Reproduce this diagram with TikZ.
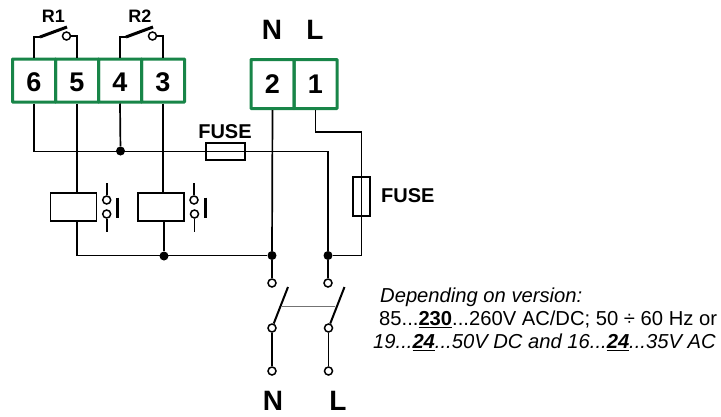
\documentclass[tikz,border=0pt]{standalone}
\usepackage{fontspec}
\setmainfont{Liberation Sans}
\usepackage{xcolor}
\usetikzlibrary{positioning,shapes,arrows,calc}
\definecolor{termgreen}{RGB}{24,133,72}
\tikzset{
    terminal/.style={draw=termgreen, line width=3pt, rounded corners=0.5pt, minimum width=43pt, inner sep=0pt, font=\fontsize{27}{27}\selectfont\bfseries},
    wire/.style={line width=1.7pt, black},
    coil/.style={draw, line width=1.7pt, minimum width=46pt, minimum height=28pt, inner sep=0pt},
    fuse/.style={draw, line width=1.6pt, inner sep=0pt},
    ring/.style={circle, draw, line width=1.5pt, fill=white, minimum size=8pt, inner sep=0pt},
    junction/.style={circle, fill=black, minimum size=9pt, inner sep=0pt},
    blade/.style={line width=3pt, black},
    caption/.style={inner sep=0pt, font=\fontsize{20}{20}\selectfont\bfseries},
    mainlabel/.style={inner sep=0pt, font=\fontsize{28}{28}\selectfont\bfseries},
    supply/.style={inner sep=0pt, anchor=west, font=\fontsize{20.2}{20.2}\selectfont}
}
\begin{document}
\begin{tikzpicture}[x=1pt,y=-1pt]
            \useasboundingbox (0,0) rectangle (721,416);

            % relay side terminals
            \node[terminal, minimum height=43pt, text height=22pt] (T6) at (34,80.5) {6};
            \node[terminal, minimum height=43pt, text height=22pt] (T5) at (77,80.5) {5};
            \node[terminal, minimum height=43pt, text height=22pt] (T4) at (120,80.5) {4};
            \node[terminal, minimum height=43pt, text height=22pt] (T3) at (163,80.5) {3};

            % supply terminals
            \node[terminal, minimum height=49pt] (T2) at (272.5,84) {2};
            \node[terminal, minimum height=49pt] (T1) at (315.5,84) {1};
            \node[mainlabel] (Ntop) at (272,30) {N};
            \node[mainlabel] (Ltop) at (315,30) {L};

            % relay contacts
            \node[caption, font=\fontsize{18}{18}\selectfont\bfseries] (R1) at (53.5,16) {R1};
            \node[caption, font=\fontsize{18}{18}\selectfont\bfseries] (R2) at (140,16) {R2};
            \node[ring] (Ra) at (66.5,36) {};
            \node[ring] (Rb) at (152.5,36) {};
            \coordinate (Ra1) at (40,37);
            \coordinate (Ra2) at (67,27);
            \coordinate (Rb1) at (126,37);
            \coordinate (Rb2) at (153,27);
            \draw[wire] (T6.north) |- (Ra1);
            \draw[wire] (T5.north) |- (Ra);
            \draw[wire] (T4.north) |- (Rb1);
            \draw[wire] (T3.north) |- (Rb);
            \draw[blade] (Ra1) -- (Ra2);
            \draw[blade] (Rb1) -- (Rb2);

            % fuses
            \node[fuse, minimum width=39pt, minimum height=17pt] (FH) at (225.5,151.5) {};
            \node[fuse, minimum width=17pt, minimum height=39pt] (FV) at (361.5,196.5) {};
            \node[caption] (FHtext) at (225,132) {FUSE};
            \node[caption, anchor=west] (FVtext) at (381,195.5) {FUSE};
            \coordinate (FVtop) at (361.5,132);

            % coils
            \node[coil] (CA) at (73.5,207) {};
            \node[coil] (CB) at (161,207) {};

            % junctions
            \node[junction] (JA) at (120.5,151) {};
            \node[junction] (JB) at (164,256) {};
            \node[junction] (JN) at (272,255.5) {};
            \node[junction] (JL) at (328,255.5) {};

            % main switch
            \node[ring] (Nu) at (272,283) {};
            \node[ring] (Lu) at (328,283) {};
            \node[ring] (Nm) at (272,328) {};
            \node[ring] (Lm) at (328.5,328) {};
            \node[ring] (Nd) at (272,371) {};
            \node[ring] (Ld) at (328.5,371) {};
            \coordinate (Nt) at (288,287);
            \coordinate (Lt) at (344.5,287);
            \coordinate (Nk) at (281.5,306.5);
            \coordinate (Lk) at (335,306.5);
            \node[mainlabel] (Nbot) at (273,401) {N};
            \node[mainlabel] (Lbot) at (338,401) {L};

            % wiring
            \draw[wire] (T6.south) |- (FH.center) -| (JL);
            \draw[wire] (T4.south) -- (JA);
            \draw[wire] (T5.south) -- (T5.south |- CA.north);
            \draw[wire] (T3.south) -- (T3.south |- CB.north);
            \draw[wire] (T5.south |- CA.south) |- (JN);
            \draw[wire] (JB |- CB.south) -- (JB);
            \draw[wire] (T2.south) -- (JN);
            \draw[wire] (T1.south) |- (FVtop) -- (FV.south) |- (JL);
            \draw[wire] (JN) -- (Nu);
            \draw[wire] (JL) -- (Lu);
            \draw[wire] (Nm) -- (Nd);
            \draw[wire] (Lm) -- (Ld);
            \draw[wire, line width=2pt] (Nm) -- (Nt);
            \draw[wire, line width=2pt] (Lm) -- (Lt);
            \draw[line width=1pt, black!55] (Nk) -- (Lk);

            % auxiliary contacts
            \node[ring] (AAu) at (106.7,200) {};
            \node[ring] (AAd) at (106.7,214) {};
            \node[ring] (ABu) at (194,200) {};
            \node[ring] (ABd) at (194.5,214) {};
            \coordinate (AAt) at (106.7,183);
            \coordinate (AAb) at (106.7,232);
            \coordinate (ABt) at (194,183);
            \coordinate (ABb) at (194.5,232);
            \draw[wire] (AAt) -- (AAu);
            \draw[wire] (AAd) -- (AAb);
            \draw[wire] (ABt) -- (ABu);
            \draw[wire] (ABd) -- (ABb);
            \coordinate (BAt) at (117,197.5);
            \coordinate (BAb) at (117,218);
            \coordinate (BBt) at (205,197.5);
            \coordinate (BBb) at (205,218);
            \draw[blade] (BAt) -- (BAb);
            \draw[blade] (BBt) -- (BBb);

            % supply text
            \node[supply] (S1) at (380,297) {\itshape Depending on version:};
            \node[supply] (S2) at (379,319.5) {85...\underline{\textbf{230}}...260V AC/DC; 50 ÷ 60 Hz or};
            \node[supply] (S3) at (373,342) {\itshape 19...\underline{\textbf{24}}...50V DC and 16...\underline{\textbf{24}}...35V AC};
        \end{tikzpicture}
\end{document}
